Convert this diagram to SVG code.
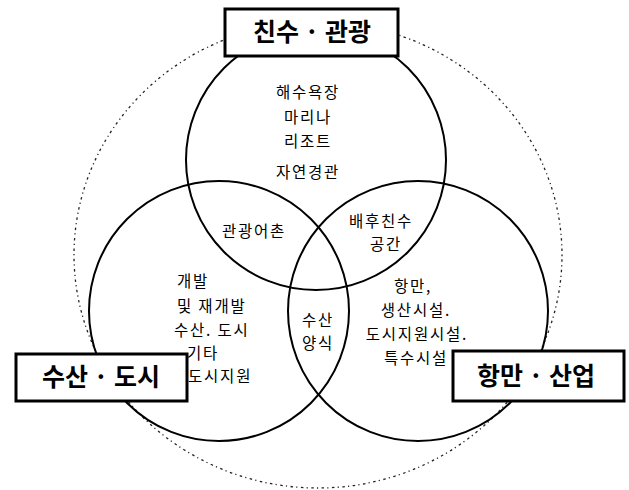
<svg xmlns="http://www.w3.org/2000/svg" width="629" height="490" viewBox="0 0 629 490">
<style>
.ring{fill:none;stroke:#222;stroke-width:1.3;stroke-dasharray:1.2 3.2 2.5 3.5;}
.set{fill:none;stroke:#000;stroke-width:2;}
.box{fill:#fff;stroke:#000;stroke-width:3;}
.t{font-family:"Noto Sans CJK KR","Noto Sans",sans-serif;font-size:15.5px;letter-spacing:1.8px;fill:#000;}
.c{text-anchor:middle;}
.title{font-family:"Noto Sans CJK KR","Noto Sans",sans-serif;font-size:25px;font-weight:700;fill:#000;text-anchor:middle;}
</style>
<rect width="629" height="490" fill="#fff"/>
<g id="outer-ring">
<ellipse class="ring" cx="318" cy="255" rx="244" ry="233"/>
</g>
<g id="sets">
<circle id="set-tourism" class="set" cx="316" cy="160" r="130"/>
<circle id="set-fishery" class="set" cx="219" cy="311" r="130"/>
<circle id="set-port" class="set" cx="418" cy="311" r="130"/>
</g>
<g id="region-tourism" class="t c">
<text x="308" y="98">해수욕장</text>
<text x="308" y="123">마리나</text>
<text x="308" y="147">리조트</text>
<text x="308" y="178">자연경관</text>
</g>
<g id="region-tourism-fishery" class="t c">
<text x="254" y="237">관광어촌</text>
</g>
<g id="region-tourism-port" class="t c">
<text x="381" y="227">배후친수</text>
<text x="386" y="250">공간</text>
</g>
<g id="region-fishery" class="t">
<text x="177" y="287">개발</text>
<text x="177" y="312">및 재개발</text>
<text x="174" y="336">수산. 도시</text>
<text x="187" y="359">기타</text>
<text x="188" y="382">도시지원</text>
</g>
<g id="region-center" class="t c">
<text x="318" y="326">수산</text>
<text x="318" y="349">양식</text>
</g>
<g id="region-port" class="t c">
<text x="413" y="292">항만,</text>
<text x="416" y="316">생산시설.</text>
<text x="417" y="340">도시지원시설.</text>
<text x="416" y="364">특수시설</text>
</g>
<g id="node-tourism">
<rect class="box" x="225" y="9" width="173" height="47"/>
<text class="title" x="312" y="41">친수 · 관광</text>
</g>
<g id="node-fishery">
<rect class="box" x="16" y="354" width="171" height="47"/>
<text class="title" x="101" y="386">수산 · 도시</text>
</g>
<g id="node-port">
<rect class="box" x="453" y="351" width="171" height="50"/>
<text class="title" x="536" y="385">항만 · 산업</text>
</g>
</svg>
